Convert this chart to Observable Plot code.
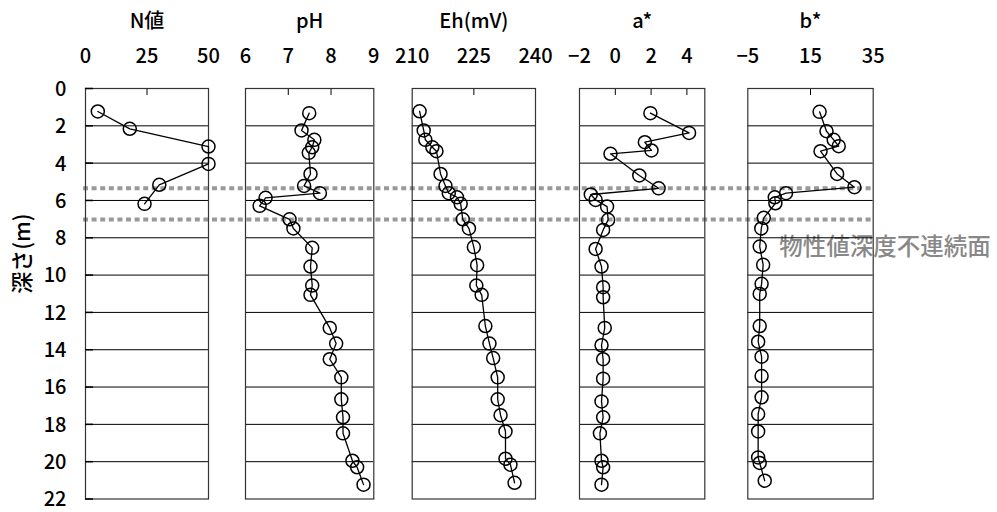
<!DOCTYPE html>
<html><head><meta charset="utf-8">
<script src="https://cdn.jsdelivr.net/npm/d3@7"></script>
<script src="https://cdn.jsdelivr.net/npm/@observablehq/plot@0.6"></script>
<style>
body{margin:0;background:#fff;}
#chart{position:relative;width:997px;height:512px;background:#fff;}
#chart svg{position:absolute;left:0;top:0;}
</style></head><body><div id="chart"></div>
<script>
// ---- data ----
const nDepth = [1.23, 2.16, 3.11, 4.04, 5.16, 6.18];
const nValue = [5, 18, 50, 50, 30, 24];

const phDepth = [1.32, 2.25, 2.75, 3.15, 3.45, 4.58, 5.22, 5.61, 5.86, 6.29, 7.01, 7.5, 8.54, 9.54, 10.56, 11.06, 12.83, 13.67, 14.51, 15.48, 16.66, 17.62, 18.48, 19.95, 20.3, 21.23];
const phValue = [7.49, 7.31, 7.61, 7.56, 7.48, 7.52, 7.37, 7.74, 6.47, 6.33, 7.03, 7.12, 7.56, 7.52, 7.56, 7.52, 7.97, 8.12, 7.97, 8.24, 8.24, 8.28, 8.28, 8.5, 8.61, 8.76];

const ehDepth = [1.22, 2.25, 2.75, 3.15, 3.36, 4.58, 5.22, 5.61, 5.83, 6.18, 7.01, 7.5, 8.5, 9.47, 10.56, 11.06, 12.73, 13.67, 14.45, 15.48, 16.66, 17.51, 18.38, 19.84, 20.16, 21.13];
const ehValue = [211.8, 212.8, 213.2, 214.9, 215.9, 216.9, 218.1, 218.9, 220.9, 221.8, 222.3, 223.8, 225.0, 225.8, 225.6, 226.9, 227.8, 228.8, 229.7, 230.8, 230.8, 231.5, 232.7, 232.7, 233.9, 234.9];

const aDepth = [1.32, 2.38, 2.88, 3.32, 3.5, 4.66, 5.35, 5.68, 5.97, 6.33, 7.04, 7.58, 8.6, 9.54, 10.65, 11.19, 12.83, 13.76, 14.51, 15.55, 16.77, 17.62, 18.48, 19.95, 20.3, 21.23];
const aValue = [1.96, 4.12, 1.65, 2.02, -0.27, 1.34, 2.42, -1.37, -1.1, -0.46, -0.4, -0.68, -1.1, -0.77, -0.68, -0.68, -0.59, -0.77, -0.68, -0.68, -0.77, -0.68, -0.86, -0.77, -0.68, -0.77];

const bDepth = [1.25, 2.29, 2.75, 3.09, 3.36, 4.58, 5.29, 5.61, 5.83, 6.15, 6.93, 7.5, 8.47, 9.45, 10.47, 11.01, 12.73, 13.57, 14.37, 15.41, 16.55, 17.45, 18.38, 19.77, 20.07, 21.02];
const bValue = [17.9, 20.1, 22.4, 24.0, 18.2, 23.5, 29.0, 7.2, 3.6, 3.8, 0.1, -0.7, -1.2, -0.1, -0.6, -1.2, -1.2, -1.7, -0.6, -0.6, -0.6, -1.7, -1.7, -1.7, -1.2, 0.4];

const titles = ["N値", "pH", "Eh(mV)", "a*", "b*"];
const xDomains = [[0, 50], [6, 9], [210, 240], [-2, 5], [-5, 35]];
const xTickLabels = [[0, 25, 50], [6, 7, 8, 9], [210, 225, 240], [-2, 0, 2, 4], [-5, 15, 35]];
const depthTicks = [0, 2, 4, 6, 8, 10, 12, 14, 16, 18, 20, 22];
const gridDepths = [2, 4, 6, 8, 10, 12, 14, 16, 18, 20];
const depthLabel = "深さ(m)";
const discontinuityDepths = [5.35, 7.02];
const discontinuityLabel = ["物性値深度不連続面"];
const discontinuityLabelAt = {b: 5, depth: 8.5};

// ---- layout ----
const W = 997, H = 512, MT = 88, MB = 13.5;
const innerH = H - MT - MB;
const panelEdges = [[85, 208], [245, 373.3], [411.7, 535], [579, 704.3], [747.3, 872.7]];
const FONT = "'Noto Sans CJK JP','Noto Sans',sans-serif";
const series = [[nDepth, nValue], [phDepth, phValue], [ehDepth, ehValue], [aDepth, aValue], [bDepth, bValue]];

const chart = document.getElementById("chart");
const yScale = {domain: [0, 22], reverse: true, axis: null};
const styleStr = `background:transparent;overflow:visible;font-family:${FONT};font-weight:500;`;

// overlay with the dashed discontinuity lines (beneath the panels)
chart.append(Plot.plot({
  width: W, height: H, marginTop: MT, marginBottom: MB,
  marginLeft: panelEdges[0][0] - 2, marginRight: W - panelEdges[4][1],
  style: styleStr,
  x: {domain: [0, 1], axis: null},
  y: yScale,
  marks: [
    Plot.ruleY(discontinuityDepths, {y: d => d, stroke: "#999", strokeWidth: 4, strokeDasharray: "5,3.6"})
  ]
}));

panelEdges.forEach(([left, right], i) => {
  const [depth, value] = series[i];
  const rows = depth.map((d, j) => ({depth: d, value: value[j]}));
  const dom = xDomains[i];
  const innerTicks = xTickLabels[i].filter(t => t > dom[0] && t < dom[1]);
  const panelW = right - left;
  const marks = [
    Plot.ruleY(gridDepths, {y: d => d, stroke: "#000", strokeWidth: 1}),
    Plot.tickX(innerTicks, {x: d => d, stroke: "#000", insetBottom: innerH - 7}),
    Plot.frame({stroke: "#333", strokeWidth: 1.2}),
    Plot.text(xTickLabels[i], {x: d => d, frameAnchor: "top", dy: -32, lineAnchor: "middle", fontSize: 20, fill: "#000", text: d => d < 0 ? "\u2212" + Math.abs(d) : String(d)}),
    Plot.text([titles[i]], {frameAnchor: "top", dy: -67, lineAnchor: "middle", fontSize: 20, fill: "#000"}),
    Plot.line(rows, {x: "value", y: "depth", stroke: "#000", strokeWidth: 1.3}),
    Plot.dot(rows, {x: "value", y: "depth", r: 6.5, stroke: "#000", strokeWidth: 1.5, fill: "none"})
  ];
  if (i === 0) {
    marks.push(
      Plot.tickY(depthTicks, {y: d => d, stroke: "#000", strokeWidth: 1.5, insetRight: panelW - 8}),
      Plot.text(depthTicks, {y: d => d, frameAnchor: "left", dx: -19, dy: 1, textAnchor: "end", lineAnchor: "middle", fontSize: 20, fill: "#000"}),
      Plot.text([depthLabel], {frameAnchor: "left", dx: -63, rotate: -90, lineAnchor: "middle", fontSize: 22, fill: "#000"})
    );
  }
  if (i === 4) {
    marks.unshift(
      Plot.text(discontinuityLabel, {x: () => discontinuityLabelAt.b, y: () => discontinuityLabelAt.depth, textAnchor: "start", lineAnchor: "middle", fontSize: 23.5, fill: "#888"})
    );
  }
  chart.append(Plot.plot({
    width: W, height: H, marginTop: MT, marginBottom: MB,
    marginLeft: left, marginRight: W - right,
    style: styleStr,
    x: {domain: dom, axis: null},
    y: yScale,
    marks
  }));
});
</script></body></html>
